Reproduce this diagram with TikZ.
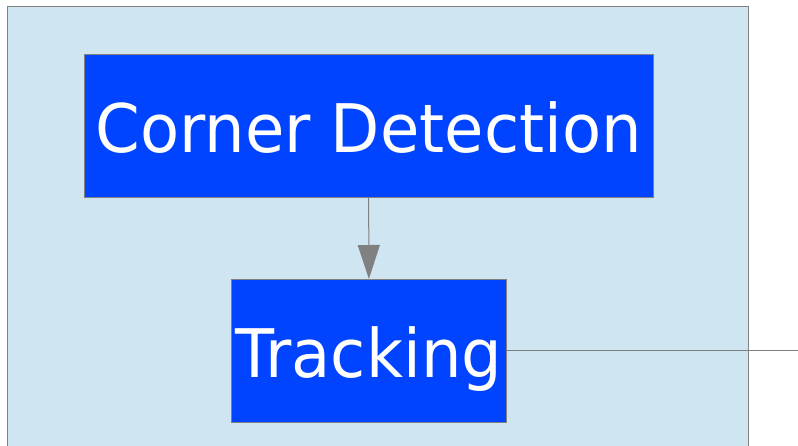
\documentclass[tikz,border=0pt]{standalone}
\usepackage{fontspec}
\setmainfont{DejaVu Sans}
\usetikzlibrary{arrows.meta}
\definecolor{panelbg}{RGB}{208,229,242}
\definecolor{boxblue}{RGB}{0,68,255}
\definecolor{edgegrey}{RGB}{128,128,128}
% slightly condensed label text
\newcommand{\stagetext}[1]{\scalebox{0.955}[1]{#1}}
\tikzset{
  x=1pt, y=-1pt,
  stagebox/.style={draw=edgegrey, line width=0.8pt, fill=boxblue, text=white,
    font=\fontsize{67}{72}\selectfont, inner sep=0pt, text height=54pt, text depth=0pt,
    anchor=north west},
  flow/.style={draw=edgegrey, line width=1pt},
}
\begin{document}
\begin{tikzpicture}
\useasboundingbox (0,0) rectangle (798,445);
% panel
\draw[edgegrey, line width=1pt, fill=panelbg] (7,6.5) rectangle (748,460);
% stages
\node[stagebox, minimum width=568.5pt, minimum height=143pt] (corner) at (84,53.5) {\stagetext{Corner Detection}};
\node[stagebox, minimum width=275pt, minimum height=143pt] (track) at (231,279) {\stagetext{Tracking}};
\coordinate (out) at (798,350);
% connectors
\draw[flow, -{Triangle[length=34pt,width=22pt]}] (corner.south) -- (track.north);
\draw[flow, line width=0.8pt] (track.east |- out) -- (out);
\end{tikzpicture}
\end{document}
